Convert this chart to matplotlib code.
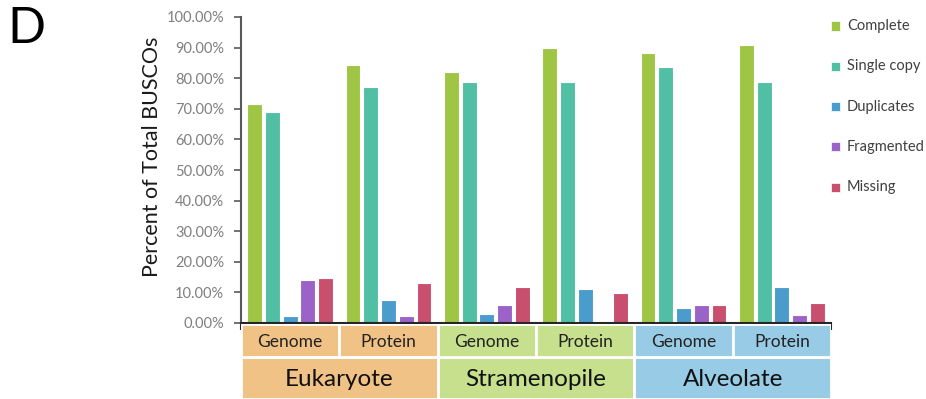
import matplotlib
matplotlib.use("Agg")
import matplotlib.pyplot as plt
from matplotlib.patches import Rectangle
from matplotlib.ticker import FuncFormatter

# BUSCO completeness (% of total BUSCOs) per lineage dataset and input type
lineages = ["Eukaryote", "Stramenopile", "Alveolate"]
inputs = ["Genome", "Protein"]
series = ["Complete", "Single copy", "Duplicates", "Fragmented", "Missing"]

complete    = [71.5, 84.4, 82.0, 90.0, 88.3, 90.7]
single_copy = [69.0, 77.0, 78.9, 78.9, 83.8, 78.9]
duplicates  = [2.3, 7.6, 3.0, 11.1, 4.8, 11.8]
fragmented  = [14.0, 2.3, 5.8, 0.0, 5.8, 2.6]
missing     = [14.6, 13.2, 11.8, 9.9, 5.8, 6.4]

values = [complete, single_copy, duplicates, fragmented, missing]
colors = ["#9fc544", "#50bfa4", "#4a9ccd", "#9b63c8", "#c94f6f"]
lineage_colors = ["#f0c286", "#c7e08d", "#98cbe6"]

W, H = 926, 399
fig = plt.figure(figsize=(W / 100, H / 100), dpi=100)
plt.rcParams["font.family"] = ["Lato", "DejaVu Sans"]

ax = fig.add_axes([241 / W, 1 - 323 / H, 590 / W, 306 / H])
n_groups = len(complete)
offsets = [-0.36, -0.18, 0.0, 0.18, 0.36]
for vals, off, c in zip(values, offsets, colors):
    xs = [i + 0.5 + off for i in range(n_groups)]
    ax.bar(xs, vals, width=0.15, color=c, edgecolor="#ffffff", linewidth=0.8)

ax.set_xlim(0, n_groups)
ax.set_ylim(0, 100)
ax.set_yticks(range(0, 101, 10))
ax.yaxis.set_major_formatter(FuncFormatter(lambda v, p: f"{v:.2f}%"))
ax.tick_params(axis="y", labelsize=10.5, labelcolor="#7f7f7f", color="#595959",
               length=5, width=1.2, pad=7)
ax.set_xticks(range(n_groups + 1))
ax.set_xticklabels([])
ax.tick_params(axis="x", direction="out", length=5, width=1.5, color="#262626")
for s in ["top", "right"]:
    ax.spines[s].set_visible(False)
ax.spines["left"].set_color("#595959")
ax.spines["left"].set_linewidth(1.5)
ax.spines["bottom"].set_color("#262626")
ax.spines["bottom"].set_linewidth(1.5)
fig.text(152 / W, 1 - 157 / H, "Percent of Total BUSCOs", rotation=90,
         ha="center", va="center", fontsize=15.5, color="#1a1a1a")

# category table under the x axis
tab = fig.add_axes([241 / W, 0.0, 590 / W, 1 - 324 / H])
tab.set_xlim(0, n_groups)
tab.set_ylim(0, 75)
tab.axis("off")
row_split = 75 - (357 - 324)
for li, lin in enumerate(lineages):
    col = lineage_colors[li]
    tab.add_patch(Rectangle((2 * li, 0), 2, row_split, facecolor=col,
                            edgecolor="white", linewidth=2))
    tab.text(2 * li + 1, row_split / 2 - 1, lin, ha="center", va="center",
             fontsize=17.5, color="#111111")
    for ii, inp in enumerate(inputs):
        x0 = 2 * li + ii
        tab.add_patch(Rectangle((x0, row_split), 1, 75 - row_split, facecolor=col,
                                edgecolor="white", linewidth=2))
        tab.text(x0 + 0.5, row_split + (75 - row_split) / 2 - 1.5, inp, ha="center",
                 va="center", fontsize=12.5, color="#222222")

# legend
for k, (name, c) in enumerate(zip(series, colors)):
    yc = 1 - (26 + 40.3 * k) / H
    fig.patches.append(Rectangle((831 / W, yc - 4.5 / H), 9 / W, 9 / H,
                                 transform=fig.transFigure, facecolor=c,
                                 edgecolor="white", linewidth=0.5))
    fig.text(847 / W, yc, name, ha="left", va="center", fontsize=10.5,
             color="#404040")

fig.text(7 / W, 1 - 29 / H, "D", ha="left", va="center", fontsize=36, color="black")

fig.savefig("out.png", dpi=100)
